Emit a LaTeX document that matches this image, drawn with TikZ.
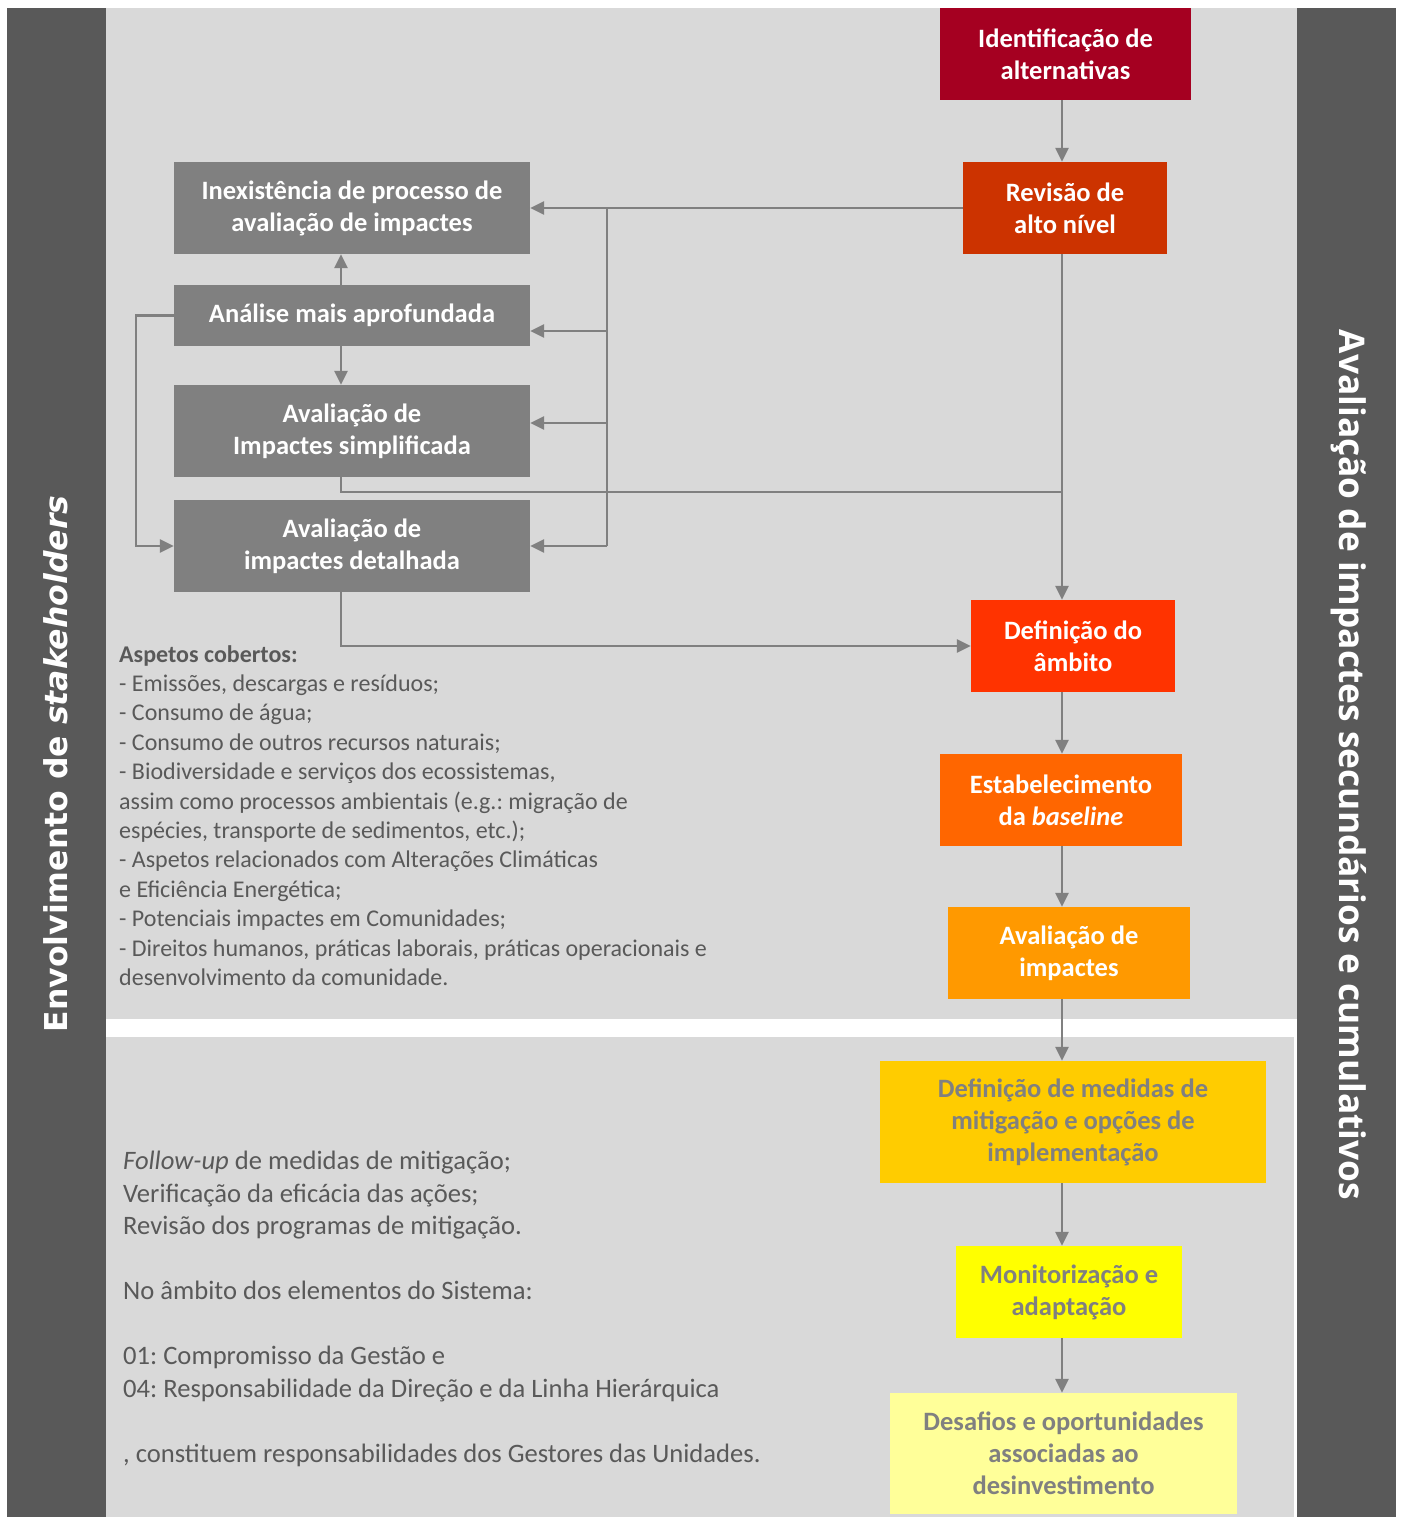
\documentclass[tikz,border=0pt]{standalone}
\usepackage{fontspec}
\setmainfont{Carlito}
\newfontfamily\leftbarfont{DejaVu Sans}
\newfontfamily\rightbarfont{Open Sans}
\frenchspacing
\usetikzlibrary{arrows.meta, positioning}
\definecolor{panelgrey}{HTML}{D9D9D9}
\definecolor{bargrey}{HTML}{595959}
\definecolor{boxgrey}{HTML}{808080}
\definecolor{notegrey}{HTML}{595959}
\definecolor{identred}{HTML}{A50021}
\definecolor{revred}{HTML}{CC3300}
\definecolor{scopered}{HTML}{FF3300}
\definecolor{baseorange}{HTML}{FF6600}
\definecolor{avalorange}{HTML}{FF9900}
\definecolor{medidgold}{HTML}{FFCC00}
\definecolor{monityellow}{HTML}{FFFF00}
\definecolor{desafyellow}{HTML}{FFFF99}
\tikzset{
  stepbox/.style={
    rectangle, inner sep=0pt, align=center,
    font=\fontsize{26.5}{32}\selectfont\bfseries, text=white,
  },
  greybox/.style={stepbox, fill=boxgrey, minimum width=356pt},
  flow/.style={draw=boxgrey, line width=2.5pt, -{Triangle[length=14pt, width=13pt]}},
  link/.style={draw=boxgrey, line width=2.5pt},
  notetext/.style={align=left, text=notegrey, inner sep=0pt, anchor=north west},
  sidelabel/.style={text=white, inner sep=0pt},
}
\begin{document}
\begin{tikzpicture}[x=1pt, y=-1pt]

  % Background panels and side bars
  \fill[white] (0,0) rectangle (1402,1517);
  \fill[bargrey] (7,8) rectangle (106,1517);
  \fill[bargrey] (1297,8) rectangle (1396,1517);
  \fill[panelgrey] (106,8) rectangle (1297,1019);
  \fill[panelgrey] (106,1037) rectangle (1294,1517);

  % Side labels
  \node[sidelabel, rotate=90, font=\leftbarfont\fontsize{31.5}{36}\selectfont\bfseries]
    (stakeh) at (56,764) {Envolvimento de \textit{stakeholders}};
  \node[sidelabel, rotate=-90, font=\rightbarfont\fontsize{35.3}{40}\selectfont\bfseries]
    (cumul) at (1349,765) {Avaliação de impactes secundários e cumulativos};

  % Right column: main process
  \node[stepbox, fill=identred, minimum width=251pt, minimum height=92pt]
    (ident) at (1065.5,54) {Identificação de\\alternativas};
  \node[stepbox, fill=revred, minimum width=204pt, minimum height=92pt]
    (rev) at (1065,208) {Revisão de\\alto nível};
  \node[stepbox, fill=scopered, minimum width=204pt, minimum height=92pt]
    (scope) at (1073,646) {Definição do\\âmbito};
  \node[stepbox, fill=baseorange, minimum width=242pt, minimum height=92pt]
    (base) at (1061,800) {Estabelecimento\\da \textit{baseline}};
  \node[stepbox, fill=avalorange, minimum width=242pt, minimum height=92pt]
    (aval) at (1069,953) {Avaliação de\\impactes};
  \node[stepbox, fill=medidgold, text=boxgrey, minimum width=386pt, minimum height=122pt]
    (medid) at (1073,1122) {Definição de medidas de\\mitigação e opções de\\implementação};
  \node[stepbox, fill=monityellow, text=boxgrey, minimum width=226pt, minimum height=92pt]
    (monit) at (1069,1292) {Monitorização e\\adaptação};
  \node[stepbox, fill=desafyellow, text=boxgrey, minimum width=347pt, minimum height=121pt]
    (desaf) at (1063.5,1453.5) {Desafios e oportunidades\\associadas ao\\desinvestimento};

  % Left column: review outcomes
  \node[greybox, minimum height=92pt] (inex)  at (352,208)   {Inexistência de processo de\\avaliação de impactes};
  \node[greybox, minimum height=61pt] (anal)  at (352,315.5) {Análise mais aprofundada};
  \node[greybox, minimum height=92pt] (simp)  at (352,431)   {Avaliação de\\Impactes simplificada};
  \node[greybox, minimum height=92pt] (detal) at (352,546)   {Avaliação de\\impactes detalhada};

  % Notes
  \node[notetext, font=\fontsize{24}{29.4}\selectfont] (aspects) at (119,645) {%
    \textbf{Aspetos cobertos:}\\
    - Emissões, descargas e resíduos;\\
    - Consumo de água;\\
    - Consumo de outros recursos naturais;\\
    - Biodiversidade e serviços dos ecossistemas,\\
    assim como processos ambientais (e.g.: migração de\\
    espécies, transporte de sedimentos, etc.);\\
    - Aspetos relacionados com Alterações Climáticas\\
    e Eficiência Energética;\\
    - Potenciais impactes em Comunidades;\\
    - Direitos humanos, práticas laborais, práticas operacionais e\\
    desenvolvimento da comunidade.};
  \node[notetext, font=\fontsize{26.6}{32.5}\selectfont] (followup) at (123,1151) {%
    \textit{Follow-up} de medidas de mitigação;\\
    Verificação da eficácia das ações;\\
    Revisão dos programas de mitigação.\\[32.5pt]
    No âmbito dos elementos do Sistema:\\[32.5pt]
    01: Compromisso da Gestão e\\
    04: Responsabilidade da Direção e da Linha Hierárquica\\[32.5pt]
    , constituem responsabilidades dos Gestores das Unidades.};

  % Helper coordinates
  \coordinate (spine) at (1062,0);
  \coordinate (stem)  at (341,0);
  \coordinate (bustop) at (607,208);
  \coordinate (busend) at (607,546);
  \coordinate (bus1) at (607,331);
  \coordinate (bus2) at (607,423);
  \coordinate (loop) at (136,546);
  \coordinate (join) at (1062,492);

  % Main chain
  \draw[flow] (ident.south -| spine) -- (rev.north -| spine);
  \draw[flow] (rev.south -| spine) -- (scope.north -| spine);
  \foreach \a/\b in {scope/base, base/aval, aval/medid, medid/monit, monit/desaf}
    \draw[flow] (\a.south -| spine) -- (\b.north -| spine);

  % Branches from the high level review
  \draw[flow] (rev.west) -- (inex.east);
  \draw[link] (bustop) -- (busend);
  \draw[flow] (bus1) -- (anal.east |- bus1);
  \draw[flow] (bus2) -- (simp.east |- bus2);
  \draw[flow] (busend) -- (detal.east);

  % Further analysis
  \draw[flow] (anal.north -| stem) -- (inex.south -| stem);
  \draw[flow] (anal.south -| stem) -- (simp.north -| stem);
  \draw[flow] (anal.west) -| (loop) -- (detal.west);

  % Back to the main chain
  \draw[link] (simp.south -| stem) |- (join);
  \draw[flow] (detal.south -| stem) |- (scope.west);

\end{tikzpicture}
\end{document}
